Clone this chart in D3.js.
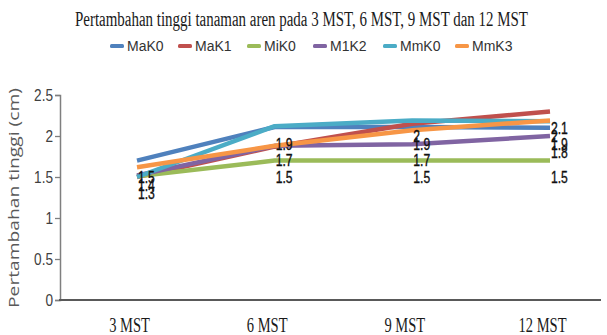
<!DOCTYPE html>
<html>
<head>
<meta charset="utf-8">
<script src="https://cdn.jsdelivr.net/npm/d3@7"></script>
<style>
  html, body { margin: 0; padding: 0; background: #fff; }
  svg { display: block; }
</style>
</head>
<body>
<svg id="chart" width="607" height="335"></svg>
<script>
// Observation times
const categories = ["3 MST", "6 MST", "9 MST", "12 MST"];

// Height increment (cm) per treatment
const MaK0 = [1.70, 2.11, 2.11, 2.10];
const MaK1 = [1.50, 1.87, 2.15, 2.30];
const MiK0 = [1.51, 1.70, 1.70, 1.70];
const M1K2 = [1.52, 1.88, 1.90, 2.00];
const MmK0 = [1.50, 2.12, 2.19, 2.18];
const MmK3 = [1.62, 1.88, 2.07, 2.19];

const seriesNames = ["MaK0", "MaK1", "MiK0", "M1K2", "MmK0", "MmK3"];
const seriesValues = [MaK0, MaK1, MiK0, M1K2, MmK0, MmK3];
const seriesColors = ["#4F81BD", "#C0504D", "#9BBB59", "#8064A2", "#4BACC6", "#F79646"];

// Value annotations printed beside each time point
const labels3 = [1.5, 1.4, 1.3];
const labels6 = [1.9, 1.7, 1.5];
const labels9 = [2, 1.9, 1.7, 1.5];
const labels12 = [2.1, 2, 1.9, 1.8, 1.5];
const pointLabels = [labels3, labels6, labels9, labels12];

const yTicks = [0, 0.5, 1, 1.5, 2, 2.5];

const titleText = "Pertambahan tinggi tanaman aren pada 3 MST, 6 MST, 9 MST dan 12 MST";
const yTitle = "Pertambahan tinggi (cm)";

const svg = d3.select("#chart");

const x = d3.scalePoint().domain(categories).range([137, 550]);
const y = d3.scaleLinear().domain([0, 2.5]).range([300, 95]);

// Title
svg.append("text")
  .attr("x", 75).attr("y", 26)
  .attr("textLength", 453).attr("lengthAdjust", "spacingAndGlyphs")
  .style("font-family", "'Liberation Serif', 'Times New Roman', serif")
  .style("font-size", "20px")
  .attr("fill", "#1a1a1a")
  .text(titleText);

// Legend
const legendX = [110, 178, 247, 313, 383, 455];
const legend = svg.append("g");
seriesNames.forEach((name, i) => {
  const g = legend.append("g").attr("transform", `translate(${legendX[i]},46)`);
  g.append("rect").attr("x", 0).attr("y", -2).attr("width", 14).attr("height", 4)
    .attr("rx", 1.5).attr("fill", seriesColors[i]);
  g.append("text").attr("x", 17).attr("y", 5)
    .style("font-family", "'Liberation Sans', Arial, sans-serif")
    .style("font-size", "14px")
    .attr("fill", "#333")
    .text(name);
});

// Y axis
const yAxis = d3.axisLeft(y).tickValues(yTicks).tickSize(5).tickFormat(d3.format("~g"));
const yg = svg.append("g").attr("transform", "translate(60,0)").call(yAxis);
yg.select(".domain").attr("stroke", "#7f7f7f").attr("stroke-width", 1.5);
yg.selectAll(".tick line").attr("stroke", "#7f7f7f").attr("stroke-width", 1.3);
yg.selectAll(".tick text").remove();
yg.selectAll(".tick").append("text")
  .attr("transform", "translate(-7,0) scale(0.85,1)")
  .attr("text-anchor", "end").attr("dy", "0.36em")
  .style("font-family", "'Liberation Sans', Arial, sans-serif")
  .style("font-size", "16px")
  .attr("fill", "#404040")
  .text(d => d3.format("~g")(d));

// Y axis title
svg.append("text")
  .attr("transform", "translate(19,198) rotate(-90)")
  .attr("text-anchor", "middle")
  .attr("textLength", 220).attr("lengthAdjust", "spacingAndGlyphs")
  .style("font-family", "'Open Sans', 'Liberation Sans', sans-serif")
  .style("font-size", "15px")
  .attr("fill", "#595959")
  .text(yTitle);

// X axis
const xAxis = d3.axisBottom(x).tickSize(0).tickPadding(0);
const xg = svg.append("g").attr("transform", "translate(0,300)").call(xAxis);
xg.select(".domain").remove();
xg.append("line").attr("x1", 59).attr("x2", 601).attr("y1", 0).attr("y2", 0)
  .attr("stroke", "#595959").attr("stroke-width", 2);
xg.selectAll(".tick text").remove();
xg.selectAll(".tick").append("text")
  .attr("transform", "translate(-8,32) scale(0.66,1)")
  .attr("text-anchor", "middle")
  .style("font-family", "'Liberation Serif', 'Times New Roman', serif")
  .style("font-size", "22px")
  .attr("fill", "#1a1a1a")
  .text(d => d);

// Lines
const line = d3.line().x((d, i) => x(categories[i])).y(d => y(d));
svg.append("g").selectAll("path")
  .data(seriesValues)
  .join("path")
  .attr("d", d => line(d))
  .attr("fill", "none")
  .attr("stroke", (d, i) => seriesColors[i])
  .attr("stroke-width", 4.5)
  .attr("stroke-linejoin", "round");

// Value annotations
const lblG = svg.append("g");
pointLabels.forEach((vals, i) => {
  vals.forEach(v => {
    lblG.append("text")
      .attr("transform", `translate(${x(categories[i]) + 1},${y(v)}) scale(0.9,1.2)`)
      .attr("dy", "0.36em")
      .style("font-family", "'Liberation Sans', Arial, sans-serif")
      .style("font-size", "13.5px")
      .attr("fill", "#111")
      .attr("stroke", "#111").attr("stroke-width", 0.3)
      .text(d3.format("~g")(v));
  });
});
</script>
</body>
</html>
